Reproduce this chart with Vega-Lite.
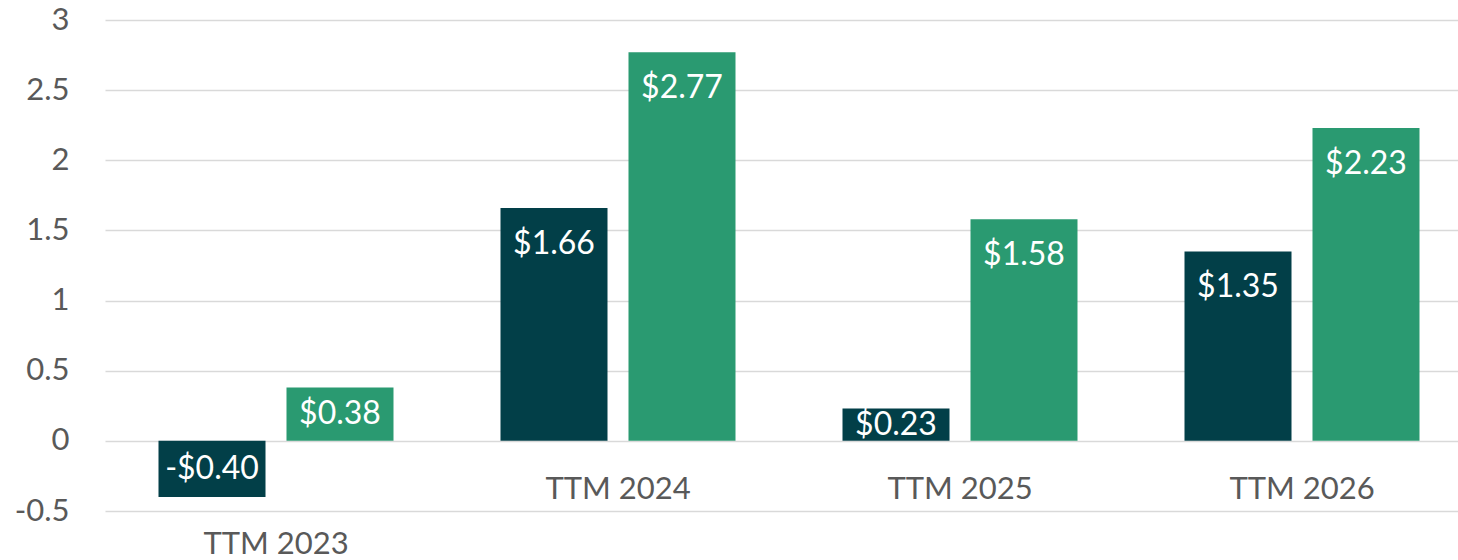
{
  "$schema": "https://vega.github.io/schema/vega-lite/v6.json",
  "width": 1383,
  "height": 491,
  "autosize": {"type": "none"},
  "padding": {"left": 75, "top": 20, "right": 0, "bottom": 49},
  "background": "white",
  "config": {"view": {"stroke": null}, "font": "Lato"},
  "data": {
    "values": [
      {"period": "TTM 2023", "series": "Series 1", "value": -0.40},
      {"period": "TTM 2023", "series": "Series 2", "value": 0.38},
      {"period": "TTM 2024", "series": "Series 1", "value": 1.66},
      {"period": "TTM 2024", "series": "Series 2", "value": 2.77},
      {"period": "TTM 2025", "series": "Series 1", "value": 0.23},
      {"period": "TTM 2025", "series": "Series 2", "value": 1.58},
      {"period": "TTM 2026", "series": "Series 1", "value": 1.35},
      {"period": "TTM 2026", "series": "Series 2", "value": 2.23}
    ]
  },
  "encoding": {
    "x": {
      "field": "period",
      "type": "nominal",
      "sort": null,
      "scale": {"range": [30, 1398], "paddingInner": 0, "paddingOuter": 0},
      "axis": null
    },
    "y": {
      "field": "value",
      "type": "quantitative",
      "scale": {"domain": [-0.5, 3], "nice": false},
      "axis": {
        "title": null,
        "values": [-0.5, 0, 0.5, 1, 1.5, 2, 2.5, 3],
        "domain": false,
        "ticks": false,
        "tickSize": 0,
        "labelPadding": 6,
        "labelFontSize": 31,
        "labelColor": "#595959",
        "gridColor": "#d9d9d9",
        "gridWidth": 1.5,
        "labelExpr": "datum.value < 0 ? '-' + toString(abs(datum.value)) : toString(datum.value)"
      }
    }
  },
  "layer": [
    {
      "mark": {"type": "bar"},
      "encoding": {
        "xOffset": {
          "field": "series",
          "type": "nominal",
          "scale": {"paddingInner": 0.164, "paddingOuter": 0.418}
        },
        "color": {
          "field": "series",
          "type": "nominal",
          "scale": {"domain": ["Series 1", "Series 2"], "range": ["#023F48", "#2A9A71"]},
          "legend": null
        }
      }
    },
    {
      "mark": {
        "type": "text",
        "color": "white",
        "fontSize": 32,
        "baseline": "middle",
        "align": "center",
        "dy": {"expr": "clamp((scale('y', 0) - scale('y', datum.value)) / 2, -36, 36)"},
        "text": {"expr": "(datum.value < 0 ? '-' : '') + '$' + format(abs(datum.value), '.2f')"}
      },
      "encoding": {
        "xOffset": {"field": "series", "type": "nominal"}
      }
    },
    {
      "transform": [{"filter": "datum.series === 'Series 1'"}],
      "mark": {
        "type": "text",
        "color": "#595959",
        "fontSize": 31,
        "baseline": "middle",
        "align": "center",
        "dy": {"expr": "datum.period === 'TTM 2023' ? 104 : 49"}
      },
      "encoding": {
        "y": {"datum": 0},
        "text": {"field": "period"}
      }
    }
  ]
}
